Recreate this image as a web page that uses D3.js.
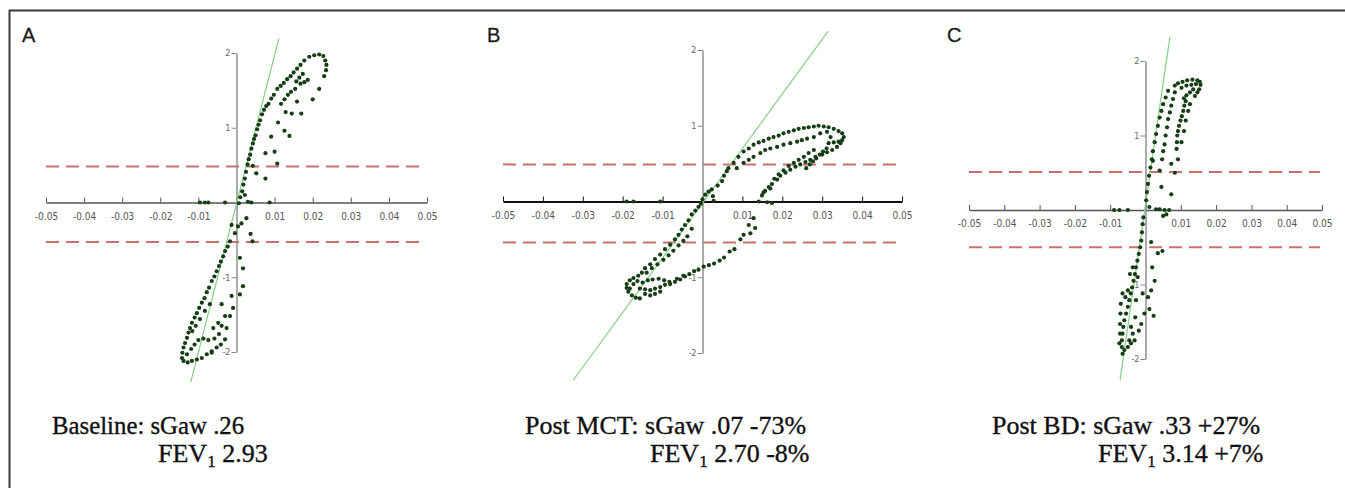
<!DOCTYPE html>
<html>
<head>
<meta charset="utf-8">
<script src="https://cdn.jsdelivr.net/npm/d3@7"></script>
<style>
  body { margin: 0; background: #fff; }
  svg { display: block; }
</style>
</head>
<body>
<svg id="chart" width="1345" height="488"></svg>
<script>
// ---- data ----
const panelLetters = ["A", "B", "C"];
const sgawLines = ["Baseline: sGaw .26", "Post MCT: sGaw .07 -73%", "Post BD: sGaw .33 +27%"];
const fevValues = ["2.93", "2.70 -8%", "3.14 +7%"];

const xTickValues = [-0.05, -0.04, -0.03, -0.02, -0.01, 0, 0.01, 0.02, 0.03, 0.04, 0.05];
const xTickLabels = ["-0.05", "-0.04", "-0.03", "-0.02", "-0.01", "", "0.01", "0.02", "0.03", "0.04", "0.05"];
const yTickValues = [2, 1, -1, -2];
const yTickLabels = ["2", "1", "-1", "-2"];

// upper / lower limit levels (red dashed)
const limitLevels = [[0.48, -0.53], [0.49, -0.54], [0.51, -0.50]];

// green reference line end points [x, y]
const fitLines = [
  [[-0.0120, -2.40], [0.0111, 2.19]],
  [[-0.0324, -2.36], [0.0315, 2.25]],
  [[-0.0072, -2.28], [0.0069, 2.32]]
];

const loopA = [
  [0.0191,1.95],[0.0204,1.97],[0.0217,1.98],[0.0228,1.96],[0.0233,1.90],[0.0236,1.84],[0.0235,1.77],[0.0230,1.69],[0.0217,1.52],[0.0200,1.38],
  [0.0178,1.90],[0.0168,1.84],[0.0159,1.79],[0.0150,1.74],[0.0142,1.69],[0.0133,1.65],[0.0124,1.60],[0.0116,1.56],[0.0107,1.52],[0.0098,1.44],[0.0091,1.39],[0.0084,1.32],[0.0078,1.29],
  [0.0072,1.24],[0.0067,1.18],[0.0062,1.10],[0.0058,1.04],[0.0054,0.98],[0.0050,0.90],[0.0046,0.85],[0.0043,0.79],[0.0039,0.72],[0.0036,0.64],[0.0032,0.58],[0.0029,0.51],[0.0025,0.41],[0.0022,0.32],[0.0018,0.24],[0.0015,0.15],[0.0010,0.07],[0.0006,-0.01],
  [0.0174,1.72],[0.0165,1.67],[0.0157,1.62],[0.0168,1.59],[0.0178,1.61],[0.0187,1.64],[0.0154,1.52],[0.0143,1.48],[0.0135,1.44],[0.0126,1.38],[0.0117,1.32],[0.0159,1.35],[0.0170,1.19],[0.0145,1.19],[0.0129,1.21],[0.0109,1.07],[0.0126,0.96],[0.0139,0.89],[0.0091,0.88],[0.0100,0.68],[0.0076,0.66],[0.0107,0.52],[0.0076,0.32],[0.0052,0.39],[0.0043,0.49],
  [-0.0096,0],[-0.0083,0],[-0.0074,0],[-0.0030,0],[0.0030,0.01],[0.0039,0],[0.0087,0],[0.0022,0.10],
  [0.0026,-0.21],[0.0013,-0.28],[0.0004,-0.32],[-0.0013,-0.30],[0.0037,-0.42],[0.0042,-0.52],[-0.0004,-0.41],[-0.0017,-0.52],[-0.0023,-0.59],[-0.0030,-0.65],[-0.0035,-0.72],[-0.0041,-0.79],[-0.0046,-0.85],[-0.0052,-0.92],[-0.0058,-0.99],[-0.0065,-1.05],[-0.0072,-1.14],[-0.0078,-1.20],[-0.0084,-1.28],[-0.0091,-1.34],[-0.0098,-1.41],[-0.0104,-1.48],[-0.0110,-1.54],[-0.0117,-1.61],[-0.0122,-1.68],[-0.0126,-1.74],[-0.0130,-1.81],[-0.0135,-1.88],[-0.0139,-1.94],[-0.0142,-2.01],[-0.0143,-2.08],[-0.0139,-2.12],[-0.0128,-2.14],[-0.0117,-2.12],[-0.0104,-2.10],[-0.0091,-2.08],[-0.0078,-2.03],[-0.0065,-1.99],
  [-0.0130,-2.03],[-0.0119,-1.96],[-0.0110,-1.90],[-0.0100,-1.84],[-0.0087,-1.82],[-0.0074,-1.84],[-0.0058,-1.82],[-0.0046,-1.76],
  [-0.0116,-1.72],[-0.0107,-1.65],[-0.0096,-1.56],[-0.0083,-1.45],[-0.0070,-1.36],
  [0.0009,-0.74],[0.0017,-0.88],[0.0017,-1.12],[0.0009,-1.23],[-0.0013,-1.25],[-0.0009,-1.41],[-0.0017,-1.52],[-0.0030,-1.52],[-0.0026,-1.68],[-0.0039,-1.65],[-0.0030,-1.83],[-0.0041,-1.90],[-0.0052,-1.94],[-0.0065,-2.01],[-0.0061,-1.68],[-0.0048,-1.61],[-0.0039,-1.36]
];

const loopB = [
  [0.0065,0.44],[0.0078,0.51],[0.0090,0.59],[0.0103,0.66],[0.0116,0.70],[0.0128,0.75],[0.0141,0.78],[0.0153,0.80],[0.0166,0.83],[0.0178,0.85],[0.0191,0.87],[0.0203,0.90],[0.0216,0.92],[0.0229,0.94],[0.0241,0.96],[0.0254,0.97],[0.0266,0.98],[0.0279,0.99],[0.0291,1.00],[0.0304,0.99],[0.0316,0.98],[0.0329,0.96],[0.0341,0.93],[0.0350,0.90],[0.0354,0.85],[0.0350,0.81],[0.0341,0.79],[0.0329,0.78],
  [0.0086,0.44],[0.0103,0.51],[0.0116,0.55],[0.0128,0.59],[0.0145,0.64],[0.0157,0.68],[0.0170,0.70],[0.0187,0.72],[0.0203,0.75],[0.0220,0.77],[0.0237,0.79],[0.0249,0.81],[0.0262,0.83],[0.0279,0.85],[0.0295,0.90],[0.0312,0.92],[0.0321,0.85],[0.0316,0.77],[0.0311,0.70],[0.0302,0.66],[0.0294,0.62],[0.0285,0.57],[0.0277,0.53],[0.0269,0.49],[0.0260,0.44],
  [0.0346,0.77],[0.0337,0.72],[0.0325,0.68],[0.0312,0.65],[0.0300,0.62],[0.0283,0.59],[0.0270,0.55],[0.0258,0.52],[0.0245,0.49],[0.0233,0.46],[0.0220,0.42],[0.0208,0.38],[0.0195,0.34],[0.0187,0.29],[0.0174,0.23],[0.0166,0.19],[0.0157,0.14],[0.0149,0.08],[0.0141,0],[0.0162,-0.01],[0.0174,-0.02],
  [0.0279,0.68],[0.0266,0.64],[0.0254,0.59],[0.0241,0.55],[0.0229,0.51],[0.0216,0.47],[0.0203,0.41],[0.0191,0.36],[0.0180,0.30],[0.0170,0.17],[0.0153,0.12],
  [-0.0190,0],[-0.0173,0],[-0.0106,0],
  [0.0128,-0.22],[0.0116,-0.31],[0.0103,-0.44],[0.0120,-0.42],[0.0132,-0.35],[0.0095,-0.50],[0.0080,-0.63],[0.0068,-0.66],[0.0054,-0.74],[0.0043,-0.78],[0.0029,-0.82],[0.0016,-0.84],[0.0003,-0.86],[-0.0010,-0.90],[-0.0021,-0.92],[-0.0033,-0.96],[-0.0044,-0.99],[-0.0056,-1.03],[-0.0069,-1.06],[-0.0081,-1.09],[-0.0094,-1.10],[-0.0106,-1.13],[-0.0119,-1.15],[-0.0131,-1.17],[-0.0144,-1.16],[-0.0157,-1.15],
  [-0.0190,-1.09],[-0.0182,-1.04],[-0.0173,-1.01],[-0.0161,-0.98],[-0.0152,-0.94],[-0.0144,-0.88],[-0.0131,-0.83],[-0.0119,-0.76],[-0.0106,-0.70],[-0.0094,-0.63],[-0.0081,-0.57],[-0.0069,-0.50],[-0.0060,-0.44],[-0.0052,-0.37],[-0.0044,-0.31],[-0.0035,-0.25],[-0.0027,-0.17],[-0.0018,-0.12],[-0.0010,-0.07],[-0.0004,-0.03],[0,0.03],[0.0007,0.09],[0.0015,0.13],[0.0023,0.16],[0.0026,0.07],[0.0028,0.01],[0.0038,0.21],[0.0049,0.27],[0.0054,0.34],[0.0061,0.40],
  [-0.0140,-0.94],[-0.0127,-0.88],[-0.0113,-0.83],[-0.0098,-0.77],[-0.0085,-0.71],[-0.0073,-0.65],[-0.0060,-0.58],[-0.0048,-0.52],[-0.0038,-0.46],[-0.0027,-0.36],
  [-0.0190,-1.14],[-0.0186,-1.19],[-0.0177,-1.24],[-0.0167,-1.27],[-0.0157,-1.28],[-0.0182,-1.15],[-0.0173,-1.09],[-0.0163,-1.05],[-0.0150,-1.07],[-0.0137,-1.04],[-0.0125,-1.03],[-0.0110,-1.02],[-0.0096,-1.04],[-0.0083,-1.06],[-0.0064,-1.02],[-0.0048,-0.98],[-0.0144,-1.22],[-0.0131,-1.24],[-0.0119,-1.22],[-0.0106,-1.19]
];

const loopC = [
  [0.0083,1.67],[0.0092,1.70],[0.0105,1.72],[0.0118,1.74],[0.0133,1.75],[0.0147,1.74],[0.0154,1.72],[0.0156,1.68],[0.0152,1.62],[0.0147,1.58],[0.0140,1.53],
  [0.0102,1.64],[0.0116,1.67],[0.0130,1.68],[0.0143,1.69],[0.0135,1.62],[0.0126,1.58],[0.0116,1.54],[0.0109,1.50],
  [0.0064,1.60],[0.0057,1.51],[0.0050,1.42],[0.0045,1.33],[0.0040,1.24],[0.0035,1.13],[0.0030,1.02],[0.0026,0.91],[0.0021,0.79],[0.0018,0.68],[0.0014,0.57],[0.0010,0.46],[0.0007,0.35],[0.0004,0.24],[0.0002,0.13],
  [0.0083,1.58],[0.0078,1.49],[0.0073,1.40],[0.0069,1.31],[0.0064,1.22],[0.0061,1.11],[0.0057,1.00],[0.0054,0.88],[0.0050,0.79],[0.0047,0.68],
  [0.0114,1.46],[0.0110,1.40],[0.0107,1.33],[0.0103,1.26],[0.0099,1.20],[0.0095,1.13],[0.0092,1.06],[0.0090,1.00],[0.0089,0.91],[0.0088,0.82],[0.0092,0.68],[0.0083,0.50],[0.0073,0.62],
  [0.0126,1.42],[0.0121,1.33],[0.0114,1.20],[0.0109,1.06],[0.0102,0.91],
  [0.0045,0.31],[0.0073,0.21],[0.0040,0.53],[0.0021,0.66],
  [-0.0089,0],[-0.0074,0],[-0.0050,0],[0.0011,0.04],[0.0030,0.01],[0.0040,0.01],[0.0054,0],[0.0067,0],[0.0050,-0.08],[0.0059,-0.06],[-0.0006,-0.10],
  [-0.0008,-0.19],[-0.0010,-0.30],[-0.0012,-0.41],[-0.0015,-0.50],[-0.0019,-0.59],[-0.0023,-0.68],[-0.0027,-0.77],[-0.0030,-0.86],[-0.0034,-0.95],[-0.0038,-1.04],[-0.0042,-1.12],[-0.0046,-1.21],[-0.0050,-1.30],[-0.0055,-1.39],[-0.0060,-1.48],[-0.0063,-1.57],[-0.0065,-1.66],[-0.0067,-1.75],[-0.0067,-1.84],[-0.0065,-1.93],[-0.0060,-1.88],[-0.0050,-1.84],[-0.0041,-1.79],[-0.0031,-1.75],
  [-0.0065,-1.12],[-0.0070,-1.26],[-0.0071,-1.39],[-0.0072,-1.53],[-0.0072,-1.66],[-0.0074,-1.79],[-0.0050,-1.08],[-0.0057,-1.17],
  [0.0016,-0.43],[0.0035,-0.58],[0.0048,-0.55],[0.0019,-0.77],[0.0026,-0.95],[0.0016,-1.08],[0.0007,-1.17],[0.0011,-1.33],[0.0023,-1.42],[-0.0003,-1.39],[-0.0012,-1.53],[-0.0019,-1.62],[-0.0008,-1.12],[-0.0027,-1.21],[-0.0029,-1.44],[-0.0041,-1.57],[-0.0036,-1.66],[-0.0046,-1.75],[-0.0022,-0.90],[-0.0036,-0.77],[-0.0044,-0.86]
];

const loops = [loopA, loopB, loopC];

// ---- layout (pixels) ----
const layout = [
  { x0: 46,  x1: 427,  yTop: 53, yBot: 352, letterX: 22,  cap1X: 52,  cap1Size: 24.8, cap2X: 158,  xAxisColor: "#555", xAxisWidth: 1.6 },
  { x0: 503, x1: 902,  yTop: 50, yBot: 353, letterX: 487, cap1X: 525, cap1Size: 26,   cap2X: 650,  xAxisColor: "#111", xAxisWidth: 2.2 },
  { x0: 969, x1: 1322, yTop: 61, yBot: 359, letterX: 947, cap1X: 992, cap1Size: 26,   cap2X: 1098, xAxisColor: "#555", xAxisWidth: 1.6 }
];

const svg = d3.select("#chart");

// outer frame (top and left edges)
svg.append("path")
  .attr("d", "M9.5,488 V10.5 H1345")
  .attr("fill", "none")
  .attr("stroke", "#3a3a3a")
  .attr("stroke-width", 2);

layout.forEach((p, i) => {
  const x = d3.scaleLinear().domain([-0.05, 0.05]).range([p.x0, p.x1]);
  const y = d3.scaleLinear().domain([-2, 2]).range([p.yBot, p.yTop]);
  const g = svg.append("g");

  // limit lines
  g.selectAll("line.limit")
    .data(limitLevels[i])
    .enter()
    .append("line")
      .attr("class", "limit")
      .attr("x1", x(-0.05))
      .attr("x2", x(0.05) - 2)
      .attr("y1", d => y(d))
      .attr("y2", d => y(d))
      .attr("stroke", "#c96f6c")
      .attr("stroke-width", 2)
      .attr("stroke-dasharray", "13,7");

  // x axis
  const xAxis = g.append("g")
    .attr("transform", `translate(0,${y(0)})`)
    .call(d3.axisBottom(x)
      .tickValues(xTickValues)
      .tickFormat((d, k) => xTickLabels[k])
      .tickSizeInner(-5)
      .tickSizeOuter(0)
      .tickPadding(10));
  xAxis.select(".domain").attr("stroke", p.xAxisColor).attr("stroke-width", p.xAxisWidth);
  xAxis.selectAll(".tick line").attr("stroke", p.xAxisColor).attr("stroke-width", 1);
  xAxis.selectAll(".tick text")
    .attr("fill", "#555")
    .attr("font-size", "10px")
    .attr("font-family", "'DejaVu Sans Condensed', 'DejaVu Sans', sans-serif");

  // y axis
  const yAxis = g.append("g")
    .attr("transform", `translate(${x(0)},0)`)
    .call(d3.axisLeft(y)
      .tickValues(yTickValues)
      .tickFormat((d, k) => yTickLabels[k])
      .tickSizeInner(5)
      .tickSizeOuter(0)
      .tickPadding(1));
  yAxis.select(".domain").attr("stroke", "#888").attr("stroke-width", 1.4);
  yAxis.selectAll(".tick line").attr("stroke", "#888");
  yAxis.selectAll(".tick text")
    .attr("fill", "#666")
    .attr("font-size", "9px")
    .attr("font-family", "'DejaVu Sans Condensed', 'DejaVu Sans', sans-serif");

  // reference line
  g.append("path")
    .attr("d", d3.line().x(d => x(d[0])).y(d => y(d[1]))(fitLines[i]))
    .attr("stroke", "#86cf86")
    .attr("stroke-width", 1.2)
    .attr("fill", "none");

  // loop points
  g.selectAll("circle")
    .data(loops[i])
    .enter()
    .append("circle")
      .attr("cx", d => x(d[0]))
      .attr("cy", d => y(d[1]))
      .attr("r", 2.1)
      .attr("fill", "#163d16");

  // panel letter
  svg.append("text")
    .text(panelLetters[i])
    .attr("x", p.letterX)
    .attr("y", 41.5)
    .attr("font-family", "'Liberation Sans', Arial, sans-serif")
    .attr("font-size", "20px")
    .attr("fill", "#1a1a1a")
    .attr("stroke", "#1a1a1a")
    .attr("stroke-width", 0.3);

  // captions
  svg.append("text")
    .text(sgawLines[i])
    .attr("x", p.cap1X)
    .attr("y", 434)
    .attr("font-family", "'Liberation Serif', 'Times New Roman', serif")
    .attr("font-size", p.cap1Size + "px")
    .attr("fill", "#111")
    .attr("stroke", "#111")
    .attr("stroke-width", 0.35);

  const fev = svg.append("text")
    .attr("x", p.cap2X)
    .attr("y", 462)
    .attr("font-family", "'Liberation Serif', 'Times New Roman', serif")
    .attr("font-size", "26px")
    .attr("fill", "#111")
    .attr("stroke", "#111")
    .attr("stroke-width", 0.35);
  fev.append("tspan").text("FEV");
  fev.append("tspan").text("1").attr("font-size", "17px").attr("dy", 5);
  fev.append("tspan").text(" " + fevValues[i]).attr("dy", -5);
});
</script>
</body>
</html>
